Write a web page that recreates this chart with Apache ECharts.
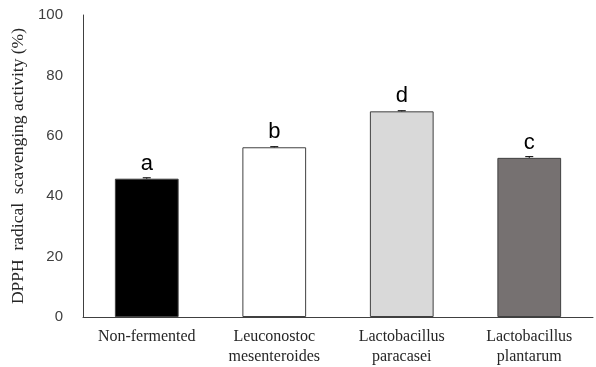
<!DOCTYPE html>
<html><head><meta charset="utf-8">
<script src="https://cdn.jsdelivr.net/npm/echarts@6/dist/echarts.min.js"></script>
<style>html,body{margin:0;padding:0;background:#fff}#c{width:596px;height:367px}</style>
</head><body><div id="c"></div>
<script>
var categories = ['Non-fermented', 'Leuconostoc\nmesenteroides', 'Lactobacillus\nparacasei', 'Lactobacillus\nplantarum'];
var values = [45.8, 56.2, 68.1, 52.7];
var errors = [0.3, 0.2, 0.2, 0.4];
var letters = ['a', 'b', 'd', 'c'];
var colors = ['#000000', '#ffffff', '#d9d9d9', '#767171'];
var yTicks = [0, 20, 40, 60, 80, 100];

var chart = echarts.init(document.getElementById('c'));
chart.setOption({
  animation: false,
  grid: {left: 83, right: 3, top: 15, bottom: 49},
  xAxis: {
    type: 'category', data: categories,
    axisLine: {lineStyle: {color: '#404040', width: 1}},
    axisTick: {show: false},
    axisLabel: {fontFamily: 'Liberation Serif', fontSize: 16, color: '#262626', margin: 10, lineHeight: 20, interval: 0}
  },
  yAxis: {
    type: 'value', min: yTicks[0], max: yTicks[yTicks.length - 1], interval: 20,
    name: 'DPPH  radical  scavenging activity (%)',
    nameLocation: 'middle', nameGap: 48,
    nameTextStyle: {fontFamily: 'Liberation Serif', fontSize: 17.5, color: '#262626'},
    axisLine: {show: true, lineStyle: {color: '#404040', width: 1}},
    axisTick: {show: false},
    splitLine: {show: false},
    axisLabel: {fontFamily: 'Liberation Sans', fontSize: 15, color: '#404040', margin: 20}
  },
  series: [{
    type: 'bar', barWidth: '50%',
    data: values.map(function (v, i) {
      return {value: v, itemStyle: {color: colors[i], borderColor: '#404040', borderWidth: 1}};
    }),
    label: {
      show: true, position: 'top', distance: 4,
      formatter: function (p) { return letters[p.dataIndex]; },
      fontFamily: 'Liberation Sans', fontSize: 22, color: '#000'
    },
    z: 2
  }, {
    type: 'custom',
    data: values.map(function (v, i) { return [i, v, errors[i]]; }),
    renderItem: function (params, api) {
      var x = api.value(0), v = api.value(1), e = api.value(2);
      var top = api.coord([x, v + e]);
      var mid = api.coord([x, v]);
      var hw = 4;
      return {
        type: 'group',
        children: [
          {type: 'line', shape: {x1: top[0], y1: top[1], x2: top[0], y2: mid[1]}, style: {stroke: '#000', lineWidth: 1}},
          {type: 'line', shape: {x1: top[0] - hw, y1: top[1], x2: top[0] + hw, y2: top[1]}, style: {stroke: '#000', lineWidth: 1}}
        ]
      };
    },
    z: 3
  }]
});
</script>
</body></html>
